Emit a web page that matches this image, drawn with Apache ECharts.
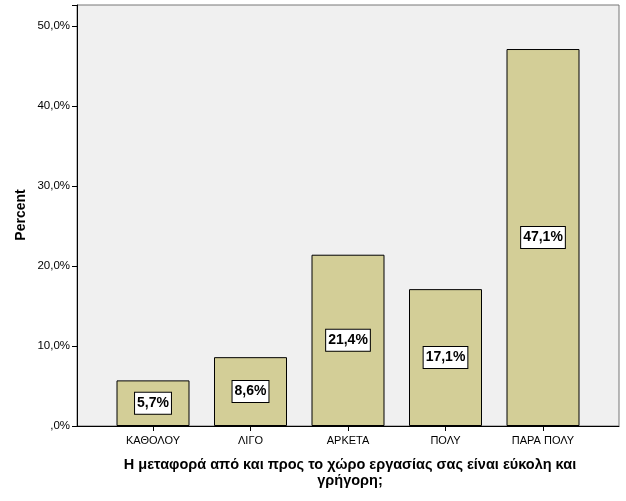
<!DOCTYPE html>
<html><head><meta charset="utf-8">
<script src="https://cdn.jsdelivr.net/npm/echarts@6/dist/echarts.min.js"></script>
<style>html,body{margin:0;padding:0;background:#fff}#c{width:626px;height:501px}</style>
</head><body><div id="c"></div>
<script>
const categories = ['ΚΑΘΟΛΟΥ', 'ΛΙΓΟ', 'ΑΡΚΕΤΑ', 'ΠΟΛΥ', 'ΠΑΡΑ ΠΟΛΥ'];
const percentValues = [5.7, 8.6, 21.4, 17.1, 47.1];
const yTicks = [0, 10, 20, 30, 40, 50];
const yTitle = 'Percent';
const xTitle = 'Η μεταφορά από και προς το χώρο εργασίας σας είναι εύκολη και\nγρήγορη;';

const fmt = v => (v === 0 ? ',0%' : v.toFixed(1).replace('.', ',') + '%');
const chart = echarts.init(document.getElementById('c'), null, {renderer: 'canvas'});
const FONT = 'Liberation Sans, Arial, sans-serif';
chart.setOption({
  animation: false,
  backgroundColor: '#ffffff',
  grid: [
    {left: 77, top: 5, width: 542, height: 421, show: true, backgroundColor: '#f0f0f0', borderColor: '#777', borderWidth: 1},
    {left: 104.25, top: 5, width: 487.5, height: 421}
  ],
  xAxis: [
    {gridIndex: 0, type: 'value', min: 0, max: 1, show: true,
     axisLine: {show: true, onZero: false, lineStyle: {color: '#000', width: 1}},
     axisTick: {show: false}, axisLabel: {show: false}, splitLine: {show: false}},
    {gridIndex: 1, type: 'category', data: categories,
     axisLine: {show: false},
     axisTick: {show: true, alignWithLabel: true, length: 5, lineStyle: {color: '#000'}},
     axisLabel: {color: '#000', fontSize: 11, fontFamily: FONT, margin: 9},
     splitLine: {show: false}}
  ],
  yAxis: [
    {gridIndex: 0, type: 'value', min: 0, max: 52.6, interval: 10,
     axisLine: {show: true, lineStyle: {color: '#000', width: 1}},
     axisTick: {show: true, length: 5, lineStyle: {color: '#000'}},
     axisLabel: {color: '#000', fontSize: 11.5, fontFamily: FONT, margin: 7,
       formatter: v => (yTicks.indexOf(v) >= 0 ? fmt(v) : '')},
     splitLine: {show: false}},
    {gridIndex: 1, type: 'value', min: 0, max: 52.6, show: false, splitLine: {show: false}}
  ],
  series: [{
    type: 'bar', xAxisIndex: 1, yAxisIndex: 1, data: percentValues,
    barWidth: 73,
    itemStyle: {color: '#d3ce97', borderColor: '#000', borderWidth: 1},
    label: {show: true, position: 'inside', formatter: p => fmt(p.value),
      color: '#000', fontWeight: 'bold', fontSize: 14, fontFamily: FONT,
      backgroundColor: '#fff', borderColor: '#000', borderWidth: 1, padding: [4, 2, 3, 2]}
  }],
  graphic: [
    {type: 'text', x: 21, y: 215, rotation: Math.PI / 2, style: {text: yTitle, font: 'bold 14px ' + FONT, fill: '#000', textAlign: 'center', textVerticalAlign: 'middle'}},
    {type: 'text', x: 350, y: 457, style: {text: xTitle, font: 'bold 14.5px ' + FONT, fill: '#000', textAlign: 'center', lineHeight: 16}}
  ]
});
</script></body></html>
